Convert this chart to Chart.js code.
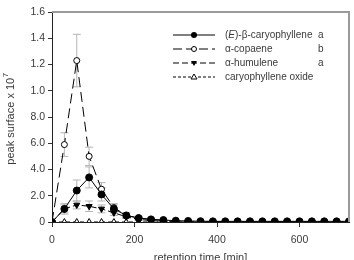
<!DOCTYPE html>
<html>
<head>
<meta charset="utf-8">
<script src="https://cdn.jsdelivr.net/npm/chart.js@4.4.1/dist/chart.umd.min.js"></script>
<style>
  html, body { margin: 0; padding: 0; background: #fff; }
  #wrap { width: 354px; height: 260px; position: relative; }
</style>
</head>
<body>
<div id="wrap"><canvas id="chart"></canvas></div>
<script>
// ── Data (retention time in minutes, peak surface x 10^7) ─────────
const times = [0, 30, 60, 90, 120, 150, 180, 210, 240, 270, 300, 330, 360,
               390, 420, 450, 480, 510, 540, 570, 600, 630, 660, 690, 720];

const caryophyllene    = [0, 0.10, 0.24, 0.34, 0.21, 0.10, 0.05, 0.03, 0.02, 0.015, 0.01, 0.008, 0.006,
                          0.005, 0.005, 0.005, 0.005, 0.005, 0.005, 0.005, 0.005, 0.005, 0.005, 0.005, 0.005];
const caryophylleneErr = [0, 0.04, 0.08, 0.08, 0.05, 0.03, 0.02, 0.01, 0.01, 0, 0, 0, 0,
                          0, 0, 0, 0, 0, 0, 0, 0, 0, 0, 0, 0];
const copaene          = [0, 0.59, 1.23, 0.50, 0.25, 0.11, 0.05, 0.03, 0.02, 0.01, 0.005, 0, 0,
                          0, 0, 0, 0, 0, 0, 0, 0, 0, 0, 0, 0];
const copaeneErr       = [0, 0.09, 0.20, 0.07, 0.05, 0.03, 0.02, 0.01, 0.01, 0, 0, 0, 0,
                          0, 0, 0, 0, 0, 0, 0, 0, 0, 0, 0, 0];
const humulene         = [0, 0.10, 0.13, 0.12, 0.10, 0.07, 0.04, 0.02, 0.01, 0.005, 0, 0, 0,
                          0, 0, 0, 0, 0, 0, 0, 0, 0, 0, 0, 0];
const humuleneErr      = [0, 0.03, 0.03, 0.04, 0.03, 0.02, 0.01, 0.01, 0, 0, 0, 0, 0,
                          0, 0, 0, 0, 0, 0, 0, 0, 0, 0, 0, 0];
const oxide            = [0, 0, 0, 0, 0, 0, 0, 0, 0, 0, 0, 0, 0,
                          0, 0, 0, 0, 0, 0, 0, 0, 0, 0, 0, 0];

const xTicks  = [0, 200, 400, 600];
const yTicks  = [0, 0.2, 0.4, 0.6, 0.8, 1.0, 1.2, 1.4, 1.6];
const yLabels = ['0', '2.0', '4.0', '6.0', '8.0', '1.0', '1.2', '1.4', '1.6'];

const legendNames   = ['(E)-β-caryophyllene', 'α-copaene', 'α-humulene', 'caryophyllene oxide'];
const legendLetters = ['a', 'b', 'a', ''];

const FONT = "'Liberation Sans', Arial, sans-serif";
const TXT  = '#3a3a3a';

const toPts = (vals) => vals.map((v, i) => ({ x: times[i], y: v }));

// ── Error bars, drawn behind the markers ─────────────────────────
const errorBars = {
  id: 'errorBars',
  beforeDatasetsDraw(chart) {
    const { ctx, scales: { x, y } } = chart;
    ctx.save();
    ctx.strokeStyle = '#b5b5b5';
    ctx.lineWidth = 1;
    chart.data.datasets.forEach((ds) => {
      if (!ds.err) return;
      ds.data.forEach((p, i) => {
        const e = ds.err[i];
        if (!e) return;
        const px  = x.getPixelForValue(p.x);
        const top = y.getPixelForValue(p.y + e);
        const bot = y.getPixelForValue(p.y - e);
        ctx.beginPath();
        ctx.moveTo(px, top); ctx.lineTo(px, bot);
        ctx.moveTo(px - 4, top); ctx.lineTo(px + 4, top);
        ctx.moveTo(px - 4, bot); ctx.lineTo(px + 4, bot);
        ctx.stroke();
      });
    });
    ctx.restore();
  },
};

// ── Frame, y title, legend ──────────────────────────────────────
function marker(ctx, kind, x, y) {
  ctx.beginPath();
  if (kind === 'dot' || kind === 'ring') {
    ctx.arc(x, y, kind === 'dot' ? 3 : 2.5, 0, Math.PI * 2);
  } else if (kind === 'down') {
    ctx.moveTo(x - 3, y - 2); ctx.lineTo(x + 3, y - 2); ctx.lineTo(x, y + 3); ctx.closePath();
  } else {
    ctx.moveTo(x - 3, y + 2); ctx.lineTo(x + 3, y + 2); ctx.lineTo(x, y - 3); ctx.closePath();
  }
  if (kind === 'dot' || kind === 'down') {
    ctx.fillStyle = '#000'; ctx.fill();
  } else {
    ctx.fillStyle = '#fff'; ctx.fill();
    ctx.strokeStyle = '#000'; ctx.stroke();
  }
}

const decorations = {
  id: 'decorations',
  afterDraw(chart) {
    const { ctx, chartArea: a } = chart;
    ctx.save();

    // gray frame on top and right
    ctx.strokeStyle = '#9a9a9a';
    ctx.lineWidth = 2;
    ctx.beginPath();
    ctx.moveTo(a.left, a.top); ctx.lineTo(a.right, a.top); ctx.lineTo(a.right, a.bottom);
    ctx.stroke();

    // y title with superscript
    ctx.fillStyle = TXT;
    ctx.translate(11, (a.top + a.bottom) / 2 + 2);
    ctx.rotate(-Math.PI / 2);
    ctx.font = `11px ${FONT}`;
    const main = 'peak surface x 10';
    const wMain = ctx.measureText(main).width;
    ctx.font = `8px ${FONT}`;
    const wSup = ctx.measureText('7').width;
    const start = -(wMain + wSup) / 2;
    ctx.textBaseline = 'middle';
    ctx.font = `11px ${FONT}`;
    ctx.fillText(main, start, 0);
    ctx.font = `8px ${FONT}`;
    ctx.fillText('7', start + wMain + 0.5, -5);
    ctx.setTransform(1, 0, 0, 1, 0, 0);

    // x title (cut by the bottom edge, as in the original)
    ctx.font = `11px ${FONT}`;
    ctx.textAlign = 'center';
    ctx.textBaseline = 'middle';
    ctx.fillText('retention time [min]', (a.left + a.right) / 2, 258);

    // legend
    const dashes = [[], [9, 4], [6, 3], [3, 2]];
    const kinds  = ['dot', 'ring', 'down', 'up'];
    legendNames.forEach((name, i) => {
      const ly = 35 + i * 14;
      ctx.strokeStyle = '#000';
      ctx.lineWidth = 1;
      ctx.setLineDash(dashes[i]);
      ctx.beginPath();
      ctx.moveTo(173, ly); ctx.lineTo(215, ly);
      ctx.stroke();
      ctx.setLineDash([]);
      marker(ctx, kinds[i], 194, ly);

      ctx.fillStyle = TXT;
      ctx.textAlign = 'left';
      ctx.textBaseline = 'middle';
      let tx = 225;
      if (i === 0) {
        ctx.font = `10px ${FONT}`;
        ctx.fillText('(', tx, ly); tx += ctx.measureText('(').width;
        ctx.font = `italic 10px ${FONT}`;
        ctx.fillText('E', tx, ly); tx += ctx.measureText('E').width;
        ctx.font = `10px ${FONT}`;
        ctx.fillText(name.slice(2), tx, ly);
      } else {
        ctx.font = `10px ${FONT}`;
        ctx.fillText(name, tx, ly);
      }
      ctx.fillText(legendLetters[i], 318, ly);
    });

    ctx.restore();
  },
};

new Chart(document.getElementById('chart'), {
  type: 'line',
  data: {
    datasets: [
      {
        label: legendNames[0], data: toPts(caryophyllene), err: caryophylleneErr,
        borderColor: '#000', borderWidth: 1, pointStyle: 'circle', pointRadius: 3.5,
        pointBackgroundColor: '#000', pointBorderColor: '#000', tension: 0,
      },
      {
        label: legendNames[1], data: toPts(copaene), err: copaeneErr,
        borderColor: '#000', borderWidth: 1, borderDash: [10, 5], pointStyle: 'circle', pointRadius: 3,
        pointBackgroundColor: '#fff', pointBorderColor: '#000', tension: 0,
      },
      {
        label: legendNames[2], data: toPts(humulene), err: humuleneErr,
        borderColor: '#000', borderWidth: 1, borderDash: [6, 3], pointStyle: 'triangle', pointRotation: 180,
        pointRadius: 3.5, pointBackgroundColor: '#000', pointBorderColor: '#000', tension: 0,
      },
      {
        label: legendNames[3], data: toPts(oxide),
        borderColor: '#000', borderWidth: 1, borderDash: [4, 3], pointStyle: 'triangle',
        pointRadius: 3.5, pointBackgroundColor: '#fff', pointBorderColor: '#000', tension: 0,
      },
    ],
  },
  options: {
    responsive: true,
    maintainAspectRatio: false,
    animation: false,
    layout: { padding: { top: 12, right: 2, left: 0, bottom: 0 } },
    plugins: { legend: { display: false }, tooltip: { enabled: false } },
    scales: {
      x: {
        type: 'linear', min: 0, max: 720,
        afterBuildTicks: (s) => { s.ticks = xTicks.map((v) => ({ value: v })); },
        afterFit: (s) => { s.height = 38; },
        grid: { display: true, drawOnChartArea: false, drawTicks: true, tickLength: 5, color: '#333' },
        border: { color: '#222', width: 1 },
        ticks: { color: TXT, font: { family: FONT, size: 10.5 }, padding: 7, maxRotation: 0 },
      },
      y: {
        type: 'linear', min: 0, max: 1.6,
        afterBuildTicks: (s) => { s.ticks = yTicks.map((v) => ({ value: v })); },
        afterFit: (s) => { s.width = 52; },
        grid: { display: true, drawOnChartArea: false, drawTicks: true, tickLength: 4, color: '#333' },
        border: { color: '#222', width: 1 },
        ticks: {
          color: TXT, font: { family: FONT, size: 10.5 }, padding: 3,
          callback: (v, i) => yLabels[i],
        },
      },
    },
  },
  plugins: [errorBars, decorations],
});
</script>
</body>
</html>
